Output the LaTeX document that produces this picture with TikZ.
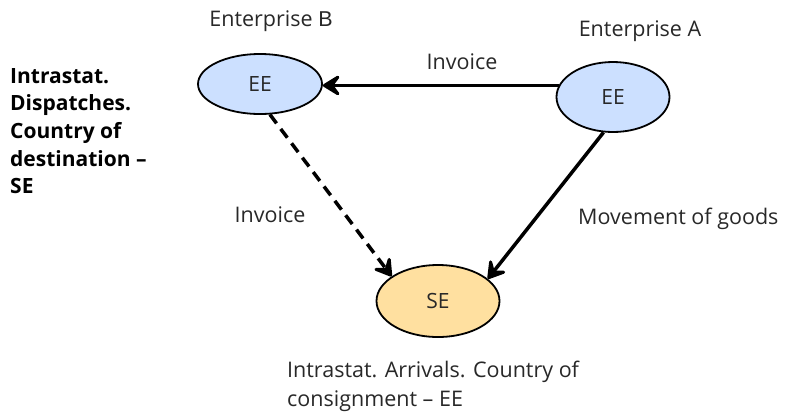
\documentclass[tikz,border=0pt]{standalone}
\usepackage{fontspec}
\setmainfont{Open Sans}
\newfontfamily\arialfont{Liberation Sans}
\usepackage{tikz}
\usetikzlibrary{shapes.geometric, arrows.meta}
\definecolor{eeblue}{RGB}{204,224,255}
\definecolor{seorange}{RGB}{255,224,160}
\definecolor{txtgrey}{RGB}{40,40,40}
\tikzstyle{country} = [ellipse, draw=black, line width=1.8pt, inner sep=0pt, font=\fontsize{21}{24}\selectfont, text=txtgrey]
\tikzstyle{caption} = [inner sep=0pt, font=\fontsize{21.5}{24}\selectfont, text=txtgrey]
\tikzset{flow/.style={line width=3.5pt, -{Stealth[length=22pt, width=27pt, inset=10pt, round]}},
         dashflow/.style={flow, dash pattern=on 11pt off 7pt}}

\begin{document}
\begin{tikzpicture}[x=1pt, y=-1pt]
      \useasboundingbox (0, 0) rectangle (789, 416);
      % the three enterprises
      \node (eeB) at (260, 84) [country, fill=eeblue, minimum width=124pt, minimum height=60pt] {EE};
      \node (eeA) at (613, 97) [country, fill=eeblue, minimum width=113pt, minimum height=70pt] {EE};
      \node (se) at (438, 301) [country, fill=seorange, minimum width=123pt, minimum height=72pt] {SE};
      \node (entB) at (271, 21) [caption] {Enterprise {\arialfont B}};
      \node (entA) at (640, 31) [caption] {Enterprise A};
      % flows
      \draw[flow] (eeA.168) -- (eeB.east |- eeA.168);
      \draw[dashflow] (eeB.-72) -- (se.152);
      \draw[flow] (eeA.-105) -- (se.24);
      \node (invTop) at (462, 62) [caption] {Invoice};
      \node (invLeft) at (270, 215) [caption] {Invoice};
      \node (goods) at (578, 219) [caption, anchor=west] {Movement of goods};
      \node (arrivals) at (287, 386) [caption, anchor=west, align=left, font=\fontsize{21.5}{29}\selectfont]
                          {Intrastat. Arrivals. Country of\\consignment -- EE};
      \node (dispatches) at (10, 131) [caption, anchor=west, align=left, text=black, font=\fontsize{21}{27.7}\selectfont\bfseries]
                          {Intrastat.\\Dispatches.\\Country of\\destination --\\SE};
    \end{tikzpicture}
\end{document}
